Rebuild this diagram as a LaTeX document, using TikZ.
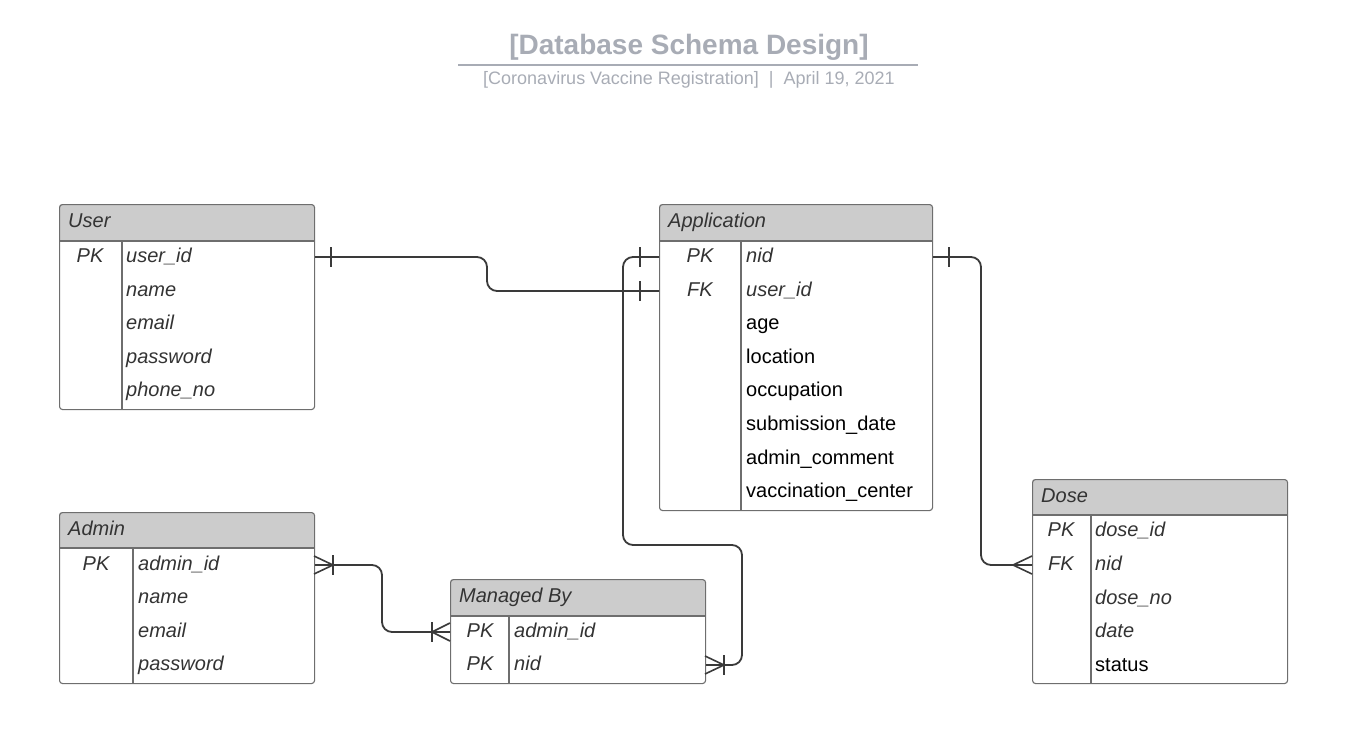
\documentclass[tikz,border=0pt]{standalone}
\usepackage{fontspec}
\setmainfont{Liberation Sans}
\definecolor{hdrgray}{HTML}{CCCCCC}
\definecolor{bordergray}{HTML}{6E6E6E}
\definecolor{linedark}{HTML}{3A3A3A}
\definecolor{txtdark}{HTML}{333333}
\definecolor{titlegray}{HTML}{A8ACB5}
\tikzset{
  tbl/.style={draw=bordergray, line width=1.1pt, rounded corners=3pt, anchor=north west, inner sep=0pt},
  sep/.style={draw=bordergray, line width=1.1pt},
  hdrtxt/.style={anchor=base west, font=\fontsize{20}{24}\selectfont\itshape, text=txtdark, inner sep=0pt},
  fld/.style={anchor=base west, font=\fontsize{20}{24}\selectfont\itshape, text=txtdark, inner sep=0pt},
  fldn/.style={anchor=base west, font=\fontsize{20}{24}\selectfont, text=black, inner sep=0pt},
  keytxt/.style={anchor=base, font=\fontsize{20}{24}\selectfont\itshape, text=txtdark, inner sep=0pt},
  conn/.style={draw=linedark, line width=1.8pt, rounded corners=10pt},
  ermark/.style={draw=linedark, line width=1.6pt},
}
\newcommand{\ertable}[8]{%
  % #1 name, #2 x1, #3 y1, #4 x2, #5 y2, #6 header bottom, #7 divider x, #8 title
  \begin{scope}
    \clip[rounded corners=3pt] (#2,#3) rectangle (#4,#5);
    \fill[hdrgray] (#2,#3) rectangle (#4,#6);
  \end{scope}
  \node[tbl, minimum width=#4pt-#2pt, minimum height=#5pt-#3pt] (#1) at (#2,#3) {};
  \draw[sep] (#2,#6) -- (#4,#6);
  \draw[sep] (#7,#6) -- (#7,#5);
  \node[hdrtxt] (#1-title) at (#2+9,#3+23) {#8};
}
% row text: #1 style, #2 name, #3 x, #4 row centre y, #5 text
\newcommand{\errow}[5]{\node[#1] (#2) at (#3,#4+7) {#5};}
\begin{document}
\begin{tikzpicture}[x=1pt,y=-1pt]
\useasboundingbox (0,0) rectangle (1369,753);

% Title
\node[font=\fontsize{28}{32}\selectfont\bfseries, text=titlegray, inner sep=0pt, anchor=base] (title) at (689,54) {[Database Schema Design]};
\coordinate (tl) at (458,65);
\coordinate (tr) at (918,65);
\draw[titlegray, line width=1.6pt] (tl) -- (tr);
\node[font=\fontsize{18}{21}\selectfont, text=titlegray, inner sep=0pt, anchor=base] (subtitle) at (689,84) {[Coronavirus Vaccine Registration]\ \ |\ \ April 19, 2021};

% User
\ertable{user}{59}{204}{314}{409}{241}{122}{User}
\errow{keytxt}{user-pk}{90}{255}{PK}
\errow{fld}{user-id}{126}{255}{user\_id}
\errow{fld}{user-name}{126}{289}{name}
\errow{fld}{user-email}{126}{322}{email}
\errow{fld}{user-pw}{126}{356}{password}
\errow{fld}{user-phone}{126}{389}{phone\_no}

% Application
\ertable{app}{659}{204}{932}{510}{241}{741}{Application}
\errow{keytxt}{app-pk}{700}{255}{PK}
\errow{keytxt}{app-fk}{700}{289}{FK}
\errow{fld}{app-nid}{746}{255}{nid}
\errow{fld}{app-uid}{746}{289}{user\_id}
\errow{fldn}{app-age}{746}{322}{age}
\errow{fldn}{app-loc}{746}{356}{location}
\errow{fldn}{app-occ}{746}{389}{occupation}
\errow{fldn}{app-sub}{746}{423}{submission\_date}
\errow{fldn}{app-com}{746}{457}{admin\_comment}
\errow{fldn}{app-vc}{746}{490}{vaccination\_center}

% Dose
\ertable{dose}{1032}{479}{1287}{683}{515}{1091}{Dose}
\errow{keytxt}{dose-pk}{1061}{529}{PK}
\errow{keytxt}{dose-fk}{1061}{563}{FK}
\errow{fld}{dose-id}{1095}{529}{dose\_id}
\errow{fld}{dose-nid}{1095}{563}{nid}
\errow{fld}{dose-no}{1095}{597}{dose\_no}
\errow{fld}{dose-date}{1095}{630}{date}
\errow{fldn}{dose-status}{1095}{664}{status}

% Admin
\ertable{admin}{59}{512}{314}{683}{548}{133}{Admin}
\errow{keytxt}{admin-pk}{96}{563}{PK}
\errow{fld}{admin-id}{138}{563}{admin\_id}
\errow{fld}{admin-name}{138}{596}{name}
\errow{fld}{admin-email}{138}{630}{email}
\errow{fld}{admin-pw}{138}{663}{password}

% Managed By
\ertable{mb}{450}{579}{705}{683}{616}{509}{Managed By}
\errow{keytxt}{mb-pk1}{480}{630}{PK}
\errow{keytxt}{mb-pk2}{480}{663}{PK}
\errow{fld}{mb-aid}{514}{630}{admin\_id}
\errow{fld}{mb-nid}{514}{663}{nid}

% Connector anchor coordinates
\coordinate (c-user) at (user.east |- 0,257);
\coordinate (c-appuid) at (app.west |- 0,291);
\coordinate (c-appnid) at (app.west |- 0,257);
\coordinate (c-appr) at (app.east |- 0,257);
\coordinate (c-dose) at (dose.west |- 0,565);
\coordinate (c-admin) at (admin.east |- 0,565);
\coordinate (c-mbl) at (mb.west |- 0,632);
\coordinate (c-mbr) at (mb.east |- 0,665);

% User -- Application (one to one)
\draw[conn] (c-user) -- (487,257) -- (487,291) -- (c-appuid);
\draw[ermark] (331,247) -- (331,267);
\draw[ermark] (640,281) -- (640,301);

% Application -- Managed By
\draw[conn] (c-appnid) -- (623,257) -- (623,545) -- (742,545) -- (742,665) -- (c-mbr);
\draw[ermark] (640,247) -- (640,267);
\draw[ermark] (724,655) -- (724,675);
\draw[ermark] (705,656) -- (724,665) -- (705,674);

% Admin -- Managed By
\draw[conn] (c-admin) -- (382,565) -- (382,632) -- (c-mbl);
\draw[ermark] (333,555) -- (333,575);
\draw[ermark] (314,556) -- (333,565) -- (314,574);
\draw[ermark] (432,622) -- (432,642);
\draw[ermark] (450,623) -- (432,632) -- (450,641);

% Application -- Dose
\draw[conn] (c-appr) -- (981,257) -- (981,565) -- (c-dose);
\draw[ermark] (949,247) -- (949,267);
\draw[ermark] (1032,556) -- (1013,565) -- (1032,574);
\end{tikzpicture}
\end{document}
